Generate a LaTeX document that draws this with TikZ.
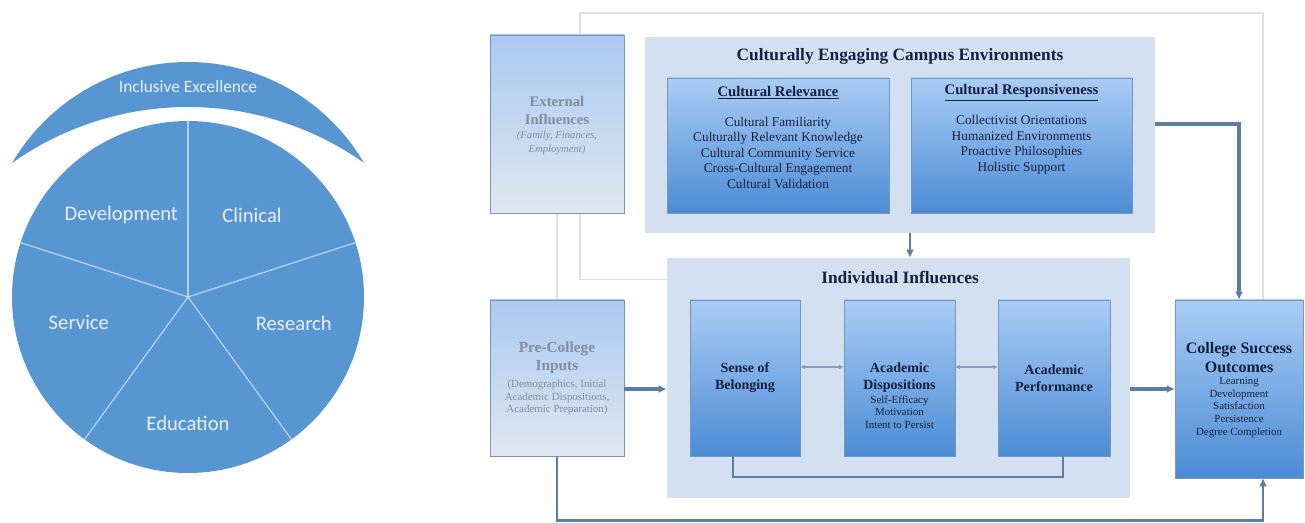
\documentclass[tikz,border=0pt]{standalone}
\usepackage{fontspec}
\setmainfont{Liberation Serif}
\newfontfamily\calibrifont{Carlito}
\usetikzlibrary{calc,backgrounds,arrows.meta}
\definecolor{pieblue}{RGB}{88,150,210}
\definecolor{pietext}{RGB}{232,239,248}
\definecolor{boxtop}{RGB}{170,204,245}
\definecolor{boxbot}{RGB}{76,140,213}
\definecolor{paletop}{RGB}{170,201,241}
\definecolor{palebot}{RGB}{224,231,240}
\definecolor{frame}{RGB}{210,224,242}
\definecolor{edge}{RGB}{120,150,185}
\definecolor{steel}{RGB}{92,126,166}
\definecolor{faint}{RGB}{220,224,229}
\definecolor{ink}{RGB}{22,32,62}
\definecolor{greyink}{RGB}{128,142,162}
\def\px{0.75pt}

\begin{document}
\begin{tikzpicture}[x=0.75pt,y=-0.75pt]
    \tikzset{%
      pielabel/.style={text=pietext, font=\calibrifont\fontsize{15.5}{18}\selectfont},
      spoke/.style={draw=white, draw opacity=0.55, line width=1pt},
      frame/.style={fill=frame, inner sep=0pt},
      darkbox/.style={draw=edge, line width=0.4pt, top color=boxtop, bottom color=boxbot, inner sep=0pt},
      palebox/.style={draw=edge, line width=0.5pt, top color=paletop, bottom color=palebot, inner sep=0pt},
      bighead/.style={text=ink, font=\bfseries\fontsize{13}{15}\selectfont},
      subhead/.style={text=ink, font=\bfseries\fontsize{11}{13}\selectfont},
      items/.style={text=ink, align=center, font=\fontsize{10}{11.6}\selectfont},
      boxhead/.style={text=ink, align=center, font=\bfseries\fontsize{10.5}{12.75}\selectfont},
      small/.style={text=ink, align=center, font=\fontsize{8.2}{9.4}\selectfont},
      flow/.style={draw=steel, line width=2.3pt, -{Latex[length=6pt,width=6pt]}},
      twoway/.style={draw=steel!75, line width=1.1pt, {Latex[length=3.5pt,width=3.5pt]}-{Latex[length=3.5pt,width=3.5pt]}},
      link/.style={draw=steel, line width=1.5pt},
      faintline/.style={draw=faint, line width=1.1pt}}

    \useasboundingbox (0,0) rectangle (1305,523);

    % left: pie with crescent
    \node[circle, fill=pieblue, minimum size=352*\px, inner sep=0pt] (pie) at (188,297) {};
    \foreach \a in {-90,-18,54,126,198}
      \draw[spoke] (pie.center) -- ++(\a:176);
    \foreach \ang/\dist/\txt/\nm in {-129/106/Development/dev, -52/104/Clinical/clin,
        167/112/Service/serv, 14/109/Research/res, 90/126/Education/edu}
      \node[pielabel] (\nm) at ($(pie.center)+(\ang:\dist)$) {\txt};

    \fill[pieblue] (364,163) arc[start angle=-30.3, end angle=-149.7, radius=203.8]
      arc[start angle=-125.3, end angle=-54.7, radius=304.6] -- cycle;
    \node[text=pietext, font=\calibrifont\fontsize{13}{15}\selectfont] (incl) at (188,87) {Inclusive Excellence};

    % right: campus model
    \node[frame, minimum width=510*\px, minimum height=196*\px] (cece) at (900,135) {};
    \node[bighead] (ceceT) at (900,56) {Culturally Engaging Campus Environments};
    \node[darkbox, minimum width=222*\px, minimum height=135*\px] (rel) at (778,145.5) {};
    \node[darkbox, minimum width=221*\px, minimum height=135*\px] (resp) at (1021.5,145.5) {};
    \node[subhead] (relT) at ($(rel.north)+(0,15)$) {\underline{Cultural Relevance}};
    \node[subhead] (respT) at ($(resp.north)+(0,15)$) {\underline{Cultural Responsiveness}};
    \node[items] (relL) at ($(rel.north)+(0,75)$) {Cultural Familiarity\\Culturally Relevant Knowledge\\Cultural Community Service\\Cross-Cultural Engagement\\Cultural Validation};
    \node[items] (respL) at ($(resp.north)+(0,67)$) {Collectivist Orientations\\Humanized Environments\\Proactive Philosophies\\Holistic Support};

    \node[frame, minimum width=463*\px, minimum height=240*\px] (indiv) at (898.5,378) {};
    \node[bighead] (indivT) at (900,278) {Individual Influences};
    \node[darkbox, minimum width=110*\px, minimum height=156*\px] (belong) at (745,378) {};
    \node[darkbox, minimum width=111*\px, minimum height=156*\px] (disp) at (899.5,378) {};
    \node[darkbox, minimum width=112*\px, minimum height=156*\px] (perf) at (1054,378) {};
    \node[boxhead] (belongT) at (belong.center) {Sense of\\Belonging};
    \node[boxhead] (dispT) at (disp.center) {Academic\\Dispositions};
    \node[small] (dispS) at ($(disp.center)+(0,34)$) {Self-Efficacy\\Motivation\\Intent to Persist};
    \node[boxhead] (perfT) at (perf.center) {Academic\\Performance};

    \node[palebox, minimum width=134*\px, minimum height=178*\px] (ext) at (557,124) {};
    \node[boxhead, text=greyink, font=\bfseries\fontsize{11}{13.5}\selectfont] (extT) at ($(ext.center)+(0,-13)$) {External\\Influences};
    \node[small, text=greyink, font=\itshape\fontsize{8}{10.5}\selectfont] (extS) at ($(ext.center)+(0,19)$) {(Family, Finances,\\Employment)};
    \node[palebox, minimum width=134*\px, minimum height=156*\px] (pre) at (557,378) {};
    \node[boxhead, text=greyink, font=\bfseries\fontsize{11.5}{13.5}\selectfont] (preT) at ($(pre.center)+(0,-20)$) {Pre-College\\Inputs};
    \node[small, text=greyink] (preS) at ($(pre.center)+(0,19.5)$) {(Demographics, Initial\\Academic Dispositions,\\Academic Preparation)};

    \node[darkbox, minimum width=128*\px, minimum height=178*\px] (outc) at (1239,389) {};
    \node[boxhead, font=\bfseries\fontsize{12}{14.25}\selectfont] (outcT) at ($(outc.center)+(0,-31.5)$) {College Success\\Outcomes};
    \node[small] (outcS) at ($(outc.center)+(0,18.5)$) {Learning\\Development\\Satisfaction\\Persistence\\Degree Completion};

    \coordinate (topL) at (580,13);
    \coordinate (topR) at (1263,13);

    \begin{pgfonlayer}{background}
      \draw[faintline] ($(indiv.north west)+(0,22)$) -| (topL) -- (topR) -- (topR |- outc.north);
      \draw[faintline] (ext.south) -- (pre.north);
    \end{pgfonlayer}

    \draw[flow] ($(pre.east)+(0,11)$) -- ($(indiv.west)+(0,11)$);
    \draw[flow] ($(indiv.east)+(0,11)$) -- (outc.west);
    \draw[flow] ($(cece.east)+(0,-11)$) -| (outc.north);
    \draw[flow, line width=1.6pt] ($(cece.south)+(10,0)$) -- ($(indiv.north)+(11.5,0)$);
    \draw[flow, line width=1.8pt] (pre.south) -- ++(0,64) -| (outc.south -| topR);
    \draw[link] ($(belong.south)+(-12,0)$) -- ++(0,21) -| ($(perf.south)+(9,0)$);
    \draw[twoway] ($(belong.east)+(0,-11)$) -- ($(disp.west)+(0,-11)$);
    \draw[twoway] ($(disp.east)+(0,-11)$) -- ($(perf.west)+(0,-11)$);
  \end{tikzpicture}
\end{document}
